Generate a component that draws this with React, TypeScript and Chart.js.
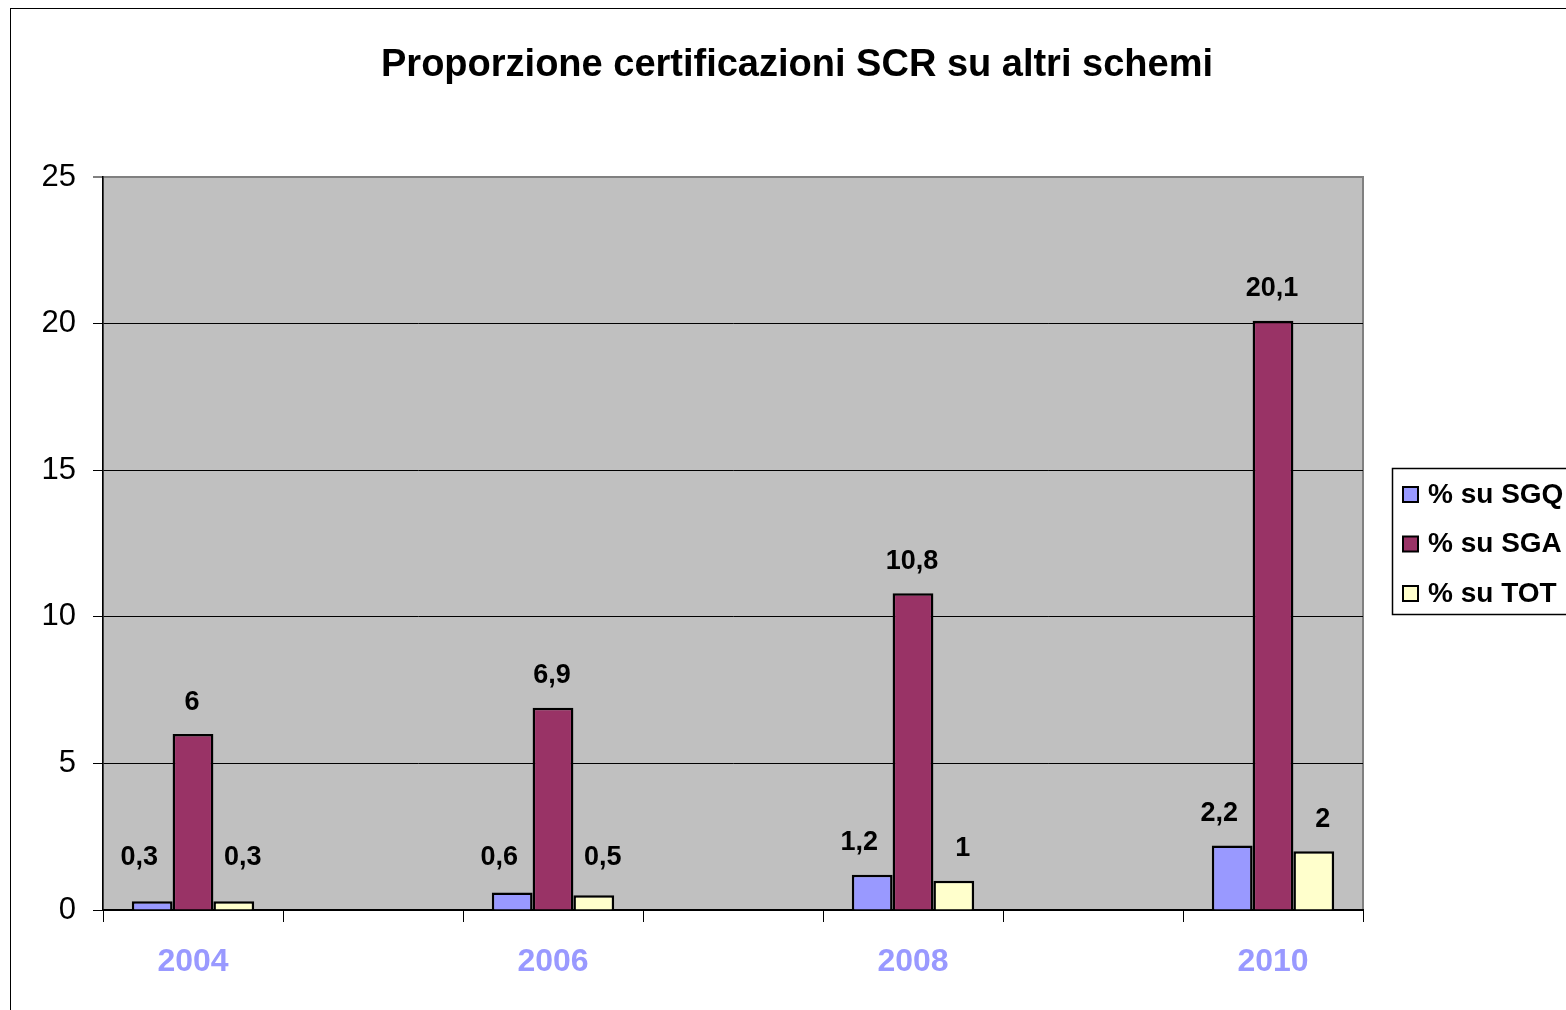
import React, { useEffect, useRef } from "react";
import { Chart, registerables } from "chart.js";

Chart.register(...registerables);

const title = "Proporzione certificazioni SCR su altri schemi";
const categories = ["2004", "", "2006", "", "2008", "", "2010"];
const seriesNames = ["% su SGQ", "% su SGA", "% su TOT"];
const sgq = [0.3, null, 0.6, null, 1.2, null, 2.2];
const sga = [6, null, 6.9, null, 10.8, null, 20.1];
const tot = [0.3, null, 0.5, null, 1, null, 2];
const colors = ["#9999FF", "#993366", "#FFFFCC"];
const yTicks = [0, 5, 10, 15, 20, 25];

const FONT = "'Liberation Sans', Arial, sans-serif";

const decor = {
  id: "decor",
  beforeDraw(chart: any) {
    const { ctx, chartArea: a } = chart;
    ctx.save();
    ctx.fillStyle = "#ffffff";
    ctx.fillRect(0, 0, chart.width, chart.height);
    ctx.strokeStyle = "#000";
    ctx.lineWidth = 1;
    ctx.strokeRect(10.5, 8.5, 1700, 1100);
    ctx.fillStyle = "#C0C0C0";
    ctx.fillRect(a.left, a.top, a.right - a.left, a.bottom - a.top);
    ctx.strokeStyle = "#808080";
    ctx.lineWidth = 2;
    ctx.strokeRect(a.left, a.top, a.right - a.left, a.bottom - a.top);
    ctx.restore();
  },
  afterDraw(chart: any) {
    const { ctx } = chart;
    ctx.save();
    // title
    ctx.fillStyle = "#000";
    ctx.font = `bold 38px ${FONT}`;
    ctx.textAlign = "center";
    ctx.textBaseline = "middle";
    ctx.fillText(title, 797, 66);
    // legend
    ctx.strokeStyle = "#000";
    ctx.lineWidth = 1.5;
    ctx.strokeRect(1392.5, 468.5, 300, 146);
    ctx.font = `bold 28px ${FONT}`;
    ctx.textAlign = "left";
    seriesNames.forEach((name, i) => {
      const cy = 494 + i * 49.5;
      ctx.fillStyle = colors[i];
      ctx.fillRect(1403, cy - 7, 15, 15);
      ctx.lineWidth = 2;
      ctx.strokeRect(1403, cy - 7, 15, 15);
      ctx.fillStyle = "#000";
      ctx.fillText(name, 1428, cy + 1);
    });
    ctx.restore();
  },
  afterDatasetsDraw(chart: any) {
    const { ctx } = chart;
    const xOff = [-13, -1, 9];
    ctx.save();
    ctx.fillStyle = "#000";
    ctx.font = `bold 27px ${FONT}`;
    ctx.textAlign = "center";
    ctx.textBaseline = "middle";
    chart.data.datasets.forEach((ds: any, di: number) => {
      const meta = chart.getDatasetMeta(di);
      meta.data.forEach((el: any, i: number) => {
        const v = ds.data[i];
        if (v === null || v === undefined) return;
        const txt = String(v).replace(".", ",");
        const y = Math.min(el.y - 32, chart.chartArea.bottom - 52);
        ctx.fillText(txt, el.x + xOff[di], y);
      });
    });
    ctx.restore();
  },
};

export default function App() {
  const ref = useRef<HTMLCanvasElement | null>(null);
  useEffect(() => {
    if (!ref.current) return;
    const chart = new Chart(ref.current, {
      type: "bar",
      data: {
        labels: categories,
        datasets: [sgq, sga, tot].map((d, i) => ({
          label: seriesNames[i],
          data: d,
          backgroundColor: colors[i],
          borderColor: "#000",
          borderWidth: 2.5,
          categoryPercentage: 0.68,
          barPercentage: 1,
        })),
      },
      options: {
        animation: false,
        responsive: false,
        maintainAspectRatio: false,
        devicePixelRatio: 1,
        layout: { padding: { left: 0, right: 203, top: 177, bottom: 0 } },
        plugins: {
          legend: { display: false },
          title: { display: false },
          tooltip: { enabled: false },
        },
        scales: {
          x: {
            offset: true,
            grid: {
              offset: true,
              drawOnChartArea: false,
              drawTicks: true,
              tickLength: 12,
              tickColor: "#000",
              tickWidth: 1,
            },
            border: { color: "#000", width: 2 },
            ticks: {
              color: "#9999FF",
              font: { family: FONT, size: 32, weight: "bold" },
              padding: 21,
              autoSkip: false,
              maxRotation: 0,
            },
            afterFit(scale: any) {
              scale.height = 100;
            },
          },
          y: {
            min: 0,
            max: 25,
            afterBuildTicks(scale: any) {
              scale.ticks = yTicks.map((v) => ({ value: v }));
            },
            grid: {
              color: (c: any) => (c.tick && c.tick.value === 25 ? "#808080" : "#000"),
              lineWidth: (c: any) => (c.tick && c.tick.value === 25 ? 2 : 1),
              tickColor: "#000",
              tickLength: 10,
              tickWidth: 1,
            },
            border: { color: "#000", width: 1.5 },
            ticks: {
              color: "#000",
              font: { family: FONT, size: 31 },
              padding: 17,
            },
            afterFit(scale: any) {
              scale.width = 103;
            },
          },
        },
      },
      plugins: [decor],
    });
    return () => chart.destroy();
  }, []);
  return (
    <div style={{ position: "fixed", left: 0, top: 0, width: 1566, height: 1010 }}>
      <canvas ref={ref} width={1566} height={1010} style={{ width: 1566, height: 1010 }} />
    </div>
  );
}
